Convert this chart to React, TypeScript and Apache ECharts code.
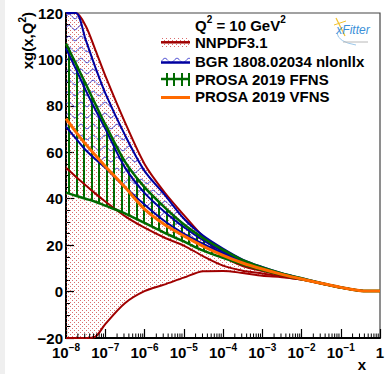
import React, { useEffect, useRef } from 'react';
import * as echarts from 'echarts';

// log10(x) sampling grid
const X_EXP = [-8, -7.75, -7.5, -7.25, -7, -6.5, -6, -5.5, -5, -4.5, -4, -3.5, -3, -2.5, -2, -1.5, -1, -0.5, 0];

// NNPDF3.1 band (upper / central / lower), clipped to frame as drawn
const NNPDF_UP = [120, 120, 114.5, 104, 93, 73, 55, 43, 33, 23.5, 15.2, 11.0, 8.9, 7.0, 5.3, 3.5, 1.7, 0.4, 0.2];
const NNPDF_C = [53.3, 49.5, 45.8, 42.2, 38.8, 32.5, 27.5, 23.3, 19.8, 15.2, 11.2, 9.0, 7.8, 6.5, 5.2, 3.5, 1.7, 0.4, 0.2];
const NNPDF_LO = [-20, -20, -20, -19.4, -14, -5, 0.2, 3.0, 6.0, 8.8, 8.9, 8.0, 6.8, 6.2, 5.2, 3.5, 1.7, 0.4, 0.2];

// BGR 1808.02034 nlonllx band
const BGR_UP = [120, 120, 108.5, 96.5, 85.5, 67.5, 52, 42, 31.5, 24, 18.5, 13.8, 10.6, 7.9, 5.8, 3.7, 1.8, 0.4, 0.2];
const BGR_C = [104.8, 95.9, 86.8, 78.3, 70.2, 53.5, 42.5, 34.5, 27.8, 22, 17.2, 13.0, 10.1, 7.7, 5.6, 3.6, 1.8, 0.4, 0.2];
const BGR_LO = [71, 66, 61, 57, 53.3, 45, 37.5, 30.5, 25, 20.5, 16.5, 12.8, 10.0, 7.6, 5.5, 3.6, 1.8, 0.4, 0.2];

// PROSA 2019 FFNS band
const FFNS_UP = [106.8, 98.2, 89.5, 80.7, 72, 56, 45, 36.5, 29, 23, 18, 13.5, 10.4, 7.8, 5.7, 3.7, 1.8, 0.4, 0.2];
const FFNS_LO = [42.6, 41.3, 40.0, 38.7, 37.0, 33.7, 29.6, 25.4, 21.6, 17.6, 14.5, 11.7, 9.3, 7.2, 5.3, 3.5, 1.7, 0.4, 0.2];

// PROSA 2019 VFNS central
const VFNS = [74.5, 68.8, 63.5, 58.7, 54, 45, 35.5, 29, 24, 19.5, 15.6, 12.3, 9.7, 7.4, 5.4, 3.6, 1.8, 0.4, 0.2];

const Y_MIN = -20;
const Y_MAX = 120;
const Y_STEP = 20;
const X_MIN = 1e-8;
const X_MAX = 1;

const LEGEND_LABELS = ['NNPDF3.1', 'BGR 1808.02034 nlonllx', 'PROSA 2019 FFNS', 'PROSA 2019 VFNS'];

const FONT = '"Liberation Sans", Arial, Helvetica, sans-serif';
const C_NN = '#a00000';
const C_BGR = '#0000a0';
const C_FF = '#006a00';
const C_VF = '#ff6a00';
const SM = 0.3;

function makePattern(w: number, h: number, draw: (ctx: CanvasRenderingContext2D) => void) {
  const c = document.createElement('canvas');
  c.width = w;
  c.height = h;
  const ctx = c.getContext('2d') as CanvasRenderingContext2D;
  draw(ctx);
  return { image: c.toDataURL('image/png'), repeat: 'repeat', imageWidth: w, imageHeight: h } as any;
}

export default function App() {
  const ref = useRef<HTMLDivElement>(null);
  useEffect(() => {
    document.body.style.margin = '0';
    const el = ref.current;
    if (!el) return;
    const chart = echarts.init(el, null, { renderer: 'svg' });

    const dots = makePattern(4, 4, (ctx) => {
      ctx.fillStyle = 'rgba(205,60,60,0.75)';
      ctx.fillRect(0, 0, 1, 1);
      ctx.fillRect(2, 2, 1, 1);
    });
    const waves = makePattern(12, 11, (ctx) => {
      ctx.strokeStyle = 'rgba(40,40,200,0.9)';
      ctx.lineWidth = 1;
      ctx.beginPath();
      for (let x = 0; x <= 12; x += 0.5) {
        const y = 5.5 + 2.2 * Math.sin((2 * Math.PI * x) / 12);
        if (x === 0) ctx.moveTo(x, y);
        else ctx.lineTo(x, y);
      }
      ctx.stroke();
    });
    const hatch = makePattern(15, 4, (ctx) => {
      ctx.fillStyle = C_FF;
      ctx.fillRect(1, 0, 2, 4);
      ctx.fillRect(8, 0, 2, 4);
    });

    const xs = X_EXP.map((e) => Math.pow(10, e));
    const pairs = (ys: number[]) => ys.map((y, i) => [xs[i], y]);
    // value first so that the stack runs along y
    const yxPairs = (ys: number[]) => ys.map((y, i) => [y, xs[i]]);
    const diff = (up: number[], lo: number[]) => up.map((y, i) => y - lo[i]);

    const band = (id: string, lo: number[], up: number[], pat: any) => [
      {
        type: 'line', name: id + '_base', stack: id, stackStrategy: 'all', data: yxPairs(lo),
        encode: { x: 1, y: 0 },
        symbol: 'none', showSymbol: false, smooth: SM, lineStyle: { opacity: 0, width: 0 }, silent: true,
      },
      {
        type: 'line', name: id + '_band', stack: id, stackStrategy: 'all', data: yxPairs(diff(up, lo)),
        encode: { x: 1, y: 0 },
        symbol: 'none', showSymbol: false, smooth: SM, lineStyle: { opacity: 0, width: 0 },
        areaStyle: { color: pat, opacity: 1 }, silent: true,
      },
    ];
    const line = (name: string, ys: number[], color: string, width: number) => ({
      type: 'line', name, data: pairs(ys), symbol: 'none', showSymbol: false, smooth: SM,
      lineStyle: { color, width }, silent: true,
    });

    const minorX: number[] = [];
    for (let d = -8; d < 0; d++) for (let k = 2; k <= 9; k++) minorX.push(k * Math.pow(10, d));

    const richAxis = {
      b: { fontFamily: FONT, fontWeight: 'bold', fontSize: 15, color: '#000', lineHeight: 18, verticalAlign: 'bottom' },
      s: { fontFamily: FONT, fontWeight: 'bold', fontSize: 10, color: '#000', lineHeight: 18, verticalAlign: 'top' },
    };
    const richG = {
      b: { fontFamily: FONT, fontWeight: 'bold', fontSize: 15, fill: '#000', color: '#000', lineHeight: 18, verticalAlign: 'bottom' },
      s: { fontFamily: FONT, fontWeight: 'bold', fontSize: 10, fill: '#000', color: '#000', lineHeight: 18, verticalAlign: 'top' },
    };

    const LX = 161;
    const LW = 29;
    const TX = 195;
    const rowsY = [42.3, 61.3, 79, 96.7];

    const graphic: any[] = [
      { type: 'rect', left: 0, top: 0, shape: { x: 0, y: 0, width: 5, height: 374 }, style: { fill: '#efefef' }, silent: true },
      {
        type: 'text', x: 26, y: 12, rotation: Math.PI / 2,
        style: { text: '{b|xg(x,Q}{s|2}{b|)}', rich: richG, align: 'right', verticalAlign: 'middle', font: 'bold 15px ' + FONT },
      },
      { type: 'text', x: 362, y: 364, style: { text: 'x', font: 'bold 15px ' + FONT, fill: '#000', align: 'center', verticalAlign: 'middle' } },
      {
        type: 'text', x: TX, y: 23.5,
        style: { text: '{b|Q}{s|2}{b| = 10 GeV}{s|2}', rich: richG, align: 'left', verticalAlign: 'middle', font: 'bold 15px ' + FONT },
      },
      { type: 'rect', shape: { x: LX, y: 37, width: LW, height: 11 }, style: { fill: dots } },
      { type: 'line', shape: { x1: LX, y1: rowsY[0], x2: LX + LW, y2: rowsY[0] }, style: { stroke: C_NN, lineWidth: 2.5 } },
      { type: 'rect', shape: { x: LX, y: 55, width: LW, height: 12 }, style: { fill: waves } },
      { type: 'line', shape: { x1: LX, y1: 62.5, x2: LX + LW, y2: 62.5 }, style: { stroke: C_BGR, lineWidth: 2.5 } },
      { type: 'rect', shape: { x: LX, y: 73, width: LW, height: 13 }, style: { fill: hatch } },
      { type: 'line', shape: { x1: LX, y1: rowsY[2], x2: LX + LW, y2: rowsY[2] }, style: { stroke: C_FF, lineWidth: 2.5 } },
      { type: 'line', shape: { x1: LX, y1: 97.5, x2: LX + LW, y2: 97.5 }, style: { stroke: C_VF, lineWidth: 3 } },
      { type: 'line', shape: { x1: 336, y1: 18, x2: 345, y2: 36 }, style: { stroke: '#f2c230', lineWidth: 1.2 } },
      { type: 'line', shape: { x1: 334, y1: 25, x2: 346, y2: 21 }, style: { stroke: '#f2c230', lineWidth: 1 } },
      { type: 'bezierCurve', shape: { x1: 337, y1: 33, x2: 356, y2: 45, cpx1: 338, cpy1: 42 }, style: { stroke: '#9cc8ea', lineWidth: 1, fill: 'none' } },
      { type: 'text', x: 353, y: 30, style: { text: 'xFitter', font: 'italic 12px ' + FONT, fill: '#3a8fd8', align: 'center', verticalAlign: 'middle' } },
      { type: 'line', shape: { x1: 343, y1: 42, x2: 368, y2: 42 }, style: { stroke: '#b8b8b8', lineWidth: 1 } },
    ];
    LEGEND_LABELS.forEach((t, i) => {
      graphic.push({
        type: 'text', x: TX, y: rowsY[i],
        style: { text: t, font: 'bold 15px ' + FONT, fill: '#000', align: 'left', verticalAlign: 'middle' },
      });
    });

    const option: any = {
      animation: false,
      backgroundColor: '#fff',
      grid: {
        left: 66, right: 6, top: 13, bottom: 36, show: true, borderColor: '#444', borderWidth: 1.2,
        backgroundColor: 'transparent', containLabel: false, outerBoundsMode: 'none',
      },
      xAxis: {
        type: 'log', logBase: 10, min: X_MIN, max: X_MAX,
        axisLine: { show: true, onZero: false, lineStyle: { color: '#000', width: 2 } },
        axisTick: { show: true, inside: true, length: 9, lineStyle: { color: '#000', width: 1.2 } },
        minorTick: { show: false },
        splitLine: { show: false },
        axisLabel: {
          margin: 4, showMinLabel: true, showMaxLabel: true, hideOverlap: false,
          formatter: (v: number) => {
            const e = Math.round(Math.log10(v));
            if (e === 0) return '{b|1}';
            return '{b|10}{s|' + String(e).replace('-', '\u2212') + '}';
          },
          rich: richAxis,
        },
      },
      yAxis: {
        type: 'value', min: Y_MIN, max: Y_MAX, interval: Y_STEP,
        axisLine: { show: true, onZero: false, lineStyle: { color: '#000', width: 2 } },
        axisTick: { show: true, inside: true, length: 8, lineStyle: { color: '#000', width: 1.2 } },
        minorTick: { show: true, splitNumber: 4, length: 4, lineStyle: { color: '#000', width: 1 } },
        splitLine: { show: false },
        minorSplitLine: { show: false },
        axisLabel: {
          margin: 3, color: '#000', fontFamily: FONT, fontWeight: 'bold', fontSize: 15,
          formatter: (v: number) => String(v).replace('-', '\u2212'),
        },
      },
      graphic,
      series: [
        ...band('nn', NNPDF_LO, NNPDF_UP, dots),
        ...band('bgr', BGR_LO, BGR_UP, waves),
        ...band('ff', FFNS_LO, FFNS_UP, hatch),
        line('NNPDF3.1 up', NNPDF_UP, C_NN, 2),
        line('NNPDF3.1', NNPDF_C, C_NN, 2),
        line('NNPDF3.1 lo', NNPDF_LO, C_NN, 2),
        line('BGR up', BGR_UP, C_BGR, 2),
        line('BGR', BGR_C, C_BGR, 2),
        line('BGR lo', BGR_LO, C_BGR, 2),
        line('FFNS up', FFNS_UP, C_FF, 2.5),
        line('FFNS lo', FFNS_LO, C_FF, 2.5),
        line('PROSA 2019 VFNS', VFNS, C_VF, 3),
        {
          type: 'custom', name: 'minorTicks', silent: true, z: 5,
          data: minorX.map((v) => [v, Y_MIN]),
          renderItem: (_p: any, api: any) => {
            const p = api.coord([api.value(0), api.value(1)]);
            return {
              type: 'line',
              shape: { x1: p[0], y1: p[1], x2: p[0], y2: p[1] - 4.5 },
              style: { stroke: '#000', lineWidth: 1 },
            };
          },
        },
      ],
    };
    chart.setOption(option);
    return () => chart.dispose();
  }, []);
  return <div ref={ref} style={{ width: 386, height: 374 }} />;
}
